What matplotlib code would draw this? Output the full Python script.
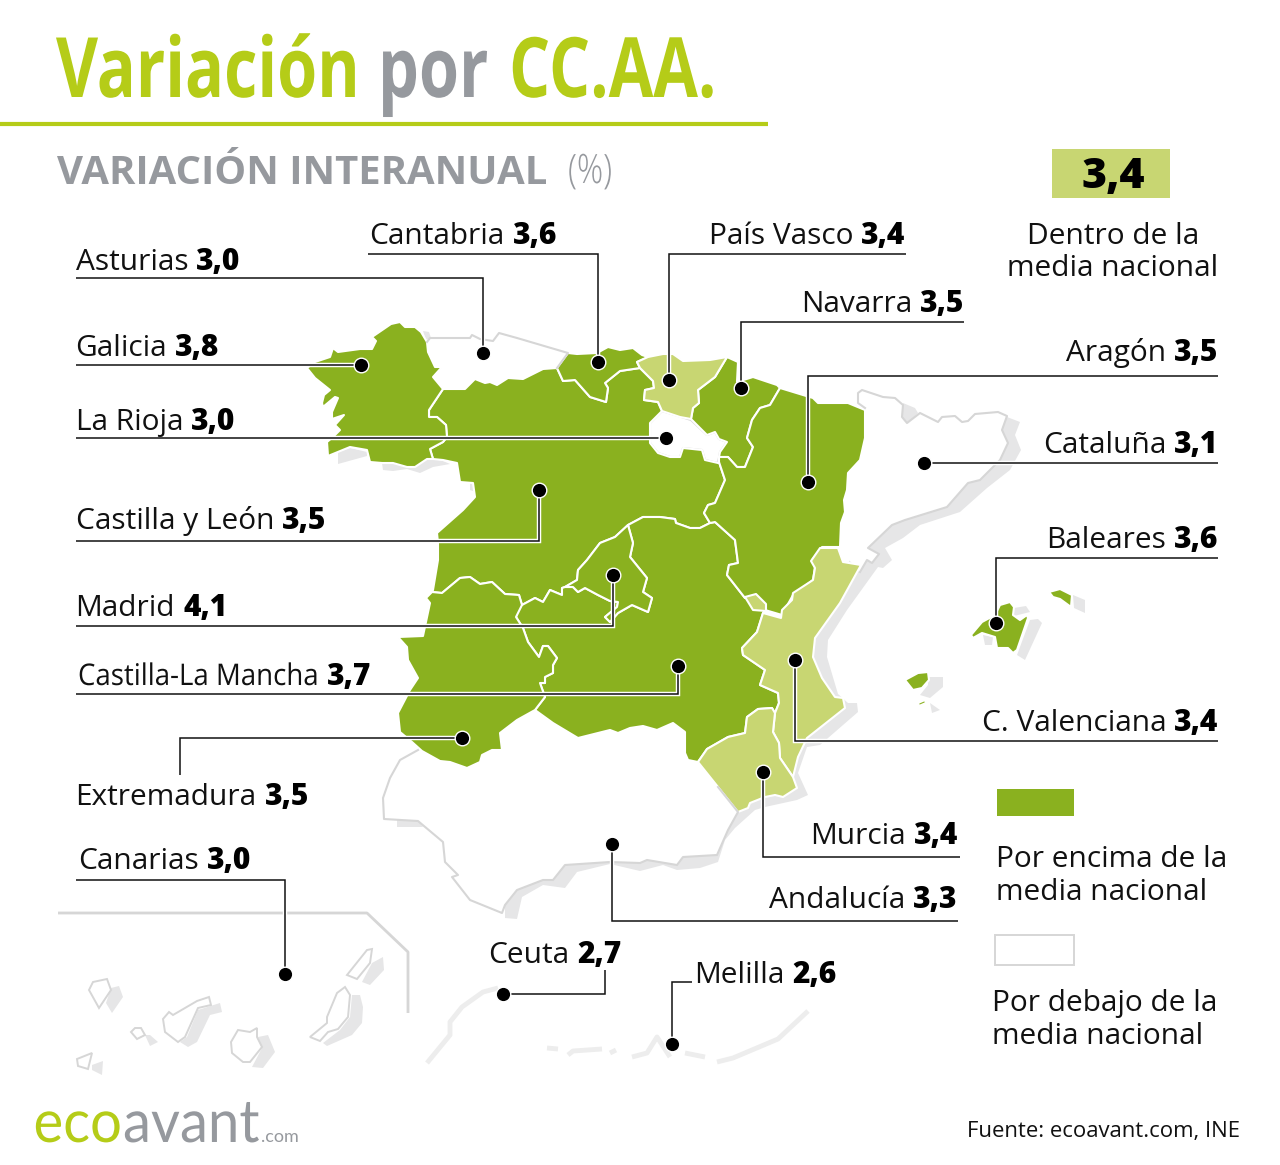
#!/usr/bin/env python3
"""Variación por CC.AA. - mapa de variación interanual (coordenadas en píxeles de la imagen)"""

import matplotlib
matplotlib.use('Agg')
import matplotlib.pyplot as plt
from matplotlib.patches import Polygon, Rectangle
from matplotlib.patheffects import AbstractPathEffect
from matplotlib.transforms import Affine2D

# Datos
regions = ['Asturias', 'Cantabria', 'País Vasco', 'Navarra', 'Galicia', 'Aragón', 'La Rioja',
           'Cataluña', 'Castilla y León', 'Baleares', 'Madrid', 'Castilla-La Mancha',
           'C. Valenciana', 'Extremadura', 'Murcia', 'Andalucía', 'Canarias', 'Ceuta', 'Melilla']
values = [3.0, 3.6, 3.4, 3.5, 3.8, 3.5, 3.0, 3.1, 3.5, 3.6, 4.1, 3.7, 3.4, 3.5, 3.4, 3.3, 3.0, 2.7, 2.6]
national = 3.4

# Contornos del mapa
galicia = [(391, 324), (400, 322), (405, 327), (415, 327), (421, 332), (427, 342), (428, 352), (435, 367),
           (442, 367), (433, 377), (443, 389), (429, 410), (429, 417), (437, 417), (446, 425), (447, 437),
           (443, 442), (430, 449), (433, 459), (427, 459), (415, 467), (407, 467), (393, 463), (382, 463),
           (370, 462), (367, 450), (350, 447), (328, 456), (327, 442), (333, 437), (340, 430), (335, 425),
           (344, 415), (332, 419), (332, 412), (338, 398), (335, 397), (323, 407), (322, 403), (324, 395),
           (330, 390), (315, 378), (307, 368), (315, 362), (330, 357), (333, 348), (338, 352), (360, 349),
           (372, 349), (376, 341), (372, 337)]
asturias = [(427, 342), (430, 338), (470, 338), (472, 335), (480, 339), (493, 341), (499, 333), (517, 338),
            (568, 353), (557, 368), (543, 369), (523, 379), (508, 378), (497, 385), (490, 382), (485, 383),
            (475, 379), (465, 389), (443, 389), (433, 377), (442, 367), (435, 367), (428, 352)]
asturias_coast = 9
cantabria = [(568, 353), (577, 354), (597, 353), (608, 347), (620, 350), (633, 348), (642, 355), (648, 357),
             (637, 362), (640, 368), (620, 371), (605, 383), (608, 388), (606, 402), (590, 397), (575, 380),
             (563, 381), (557, 368)]
pais_vasco = [(637, 362), (648, 357), (663, 354), (673, 354), (683, 361), (710, 360), (727, 357), (715, 377),
              (698, 390), (699, 403), (693, 408), (691, 419), (680, 417), (662, 411), (658, 402), (644, 400),
              (645, 390), (654, 388), (653, 381), (640, 368)]
trevino = [(663, 395), (672, 393), (680, 397), (683, 404), (672, 403), (665, 399)]
navarra = [(727, 357), (738, 362), (737, 382), (753, 377), (777, 385), (780, 388), (770, 405), (760, 408),
           (752, 420), (747, 438), (753, 447), (745, 467), (737, 467), (728, 457), (719, 457), (720, 452),
           (727, 442), (719, 439), (715, 432), (707, 435), (691, 419), (693, 408), (699, 403), (698, 390),
           (715, 377)]
la_rioja = [(662, 411), (691, 420), (707, 435), (715, 432), (719, 439), (727, 442), (720, 452), (718, 463),
            (705, 460), (702, 450), (683, 448), (680, 457), (670, 457), (658, 453), (650, 443), (650, 423)]
aragon = [(780, 388), (803, 395), (813, 398), (818, 403), (848, 403), (865, 410), (865, 438), (860, 460),
          (848, 473), (847, 490), (844, 500), (845, 512), (841, 523), (840, 547), (822, 547), (812, 560),
          (815, 567), (813, 580), (793, 595), (782, 615), (765, 610), (763, 602), (755, 595), (745, 598),
          (727, 575), (729, 565), (738, 563), (735, 540), (715, 522), (710, 523), (704, 513), (708, 505),
          (715, 503), (725, 480), (719, 462), (719, 457), (728, 457), (737, 467), (745, 467), (753, 447),
          (747, 438), (752, 420), (760, 408), (770, 405)]
cataluna = [(865, 408), (858, 403), (858, 393), (862, 390), (883, 397), (895, 398), (903, 405), (902, 417),
            (907, 423), (920, 413), (938, 422), (942, 417), (955, 416), (962, 422), (968, 421), (975, 414),
            (998, 412), (1007, 416), (1002, 430), (1008, 443), (1000, 460), (987, 473), (980, 480), (968, 483),
            (947, 507), (905, 520), (892, 525), (868, 548), (879, 554), (872, 563), (867, 560), (860, 572),
            (838, 548), (820, 540), (840, 500)]
cataluna_coast = 31
castilla_leon = [(443, 389), (465, 389), (475, 379), (485, 383), (490, 382), (497, 385), (508, 378), (523, 379),
                 (543, 369), (557, 368), (563, 381), (575, 380), (590, 397), (606, 402), (608, 388), (605, 383),
                 (620, 371), (640, 368), (653, 381), (654, 388), (645, 390), (644, 400), (658, 402), (662, 411),
                 (650, 423), (650, 443), (658, 453), (670, 457), (680, 457), (683, 448), (702, 450), (705, 460),
                 (718, 463), (719, 462), (725, 480), (715, 503), (708, 505), (704, 513), (710, 523), (700, 528),
                 (690, 528), (676, 523), (675, 519), (660, 517), (650, 517), (643, 517), (628, 525), (615, 537),
                 (600, 543), (587, 560), (578, 570), (577, 580), (565, 587), (562, 588), (562, 595), (550, 590),
                 (543, 602), (535, 598), (522, 605), (519, 595), (505, 594), (492, 582), (480, 584), (470, 577),
                 (460, 578), (442, 593), (432, 592), (433, 590), (438, 560), (438, 543), (437, 533), (463, 510),
                 (475, 497), (473, 483), (460, 482), (457, 463), (443, 460), (433, 459), (430, 449), (443, 442),
                 (447, 437), (446, 425), (437, 417), (429, 417), (429, 410)]
madrid = [(628, 525), (633, 543), (630, 557), (647, 578), (643, 592), (652, 598), (648, 612), (632, 605),
          (618, 613), (610, 622), (605, 617), (617, 607), (618, 602), (610, 601), (598, 595), (585, 588),
          (578, 592), (573, 587), (565, 587), (577, 580), (578, 570), (587, 560), (600, 543), (615, 537)]
castilla_mancha = [(628, 525), (643, 517), (650, 517), (660, 517), (675, 519), (676, 523), (690, 528), (700, 528),
                   (710, 523), (715, 522), (735, 540), (738, 563), (729, 565), (727, 575), (745, 598), (755, 595),
                   (763, 602), (765, 610), (763, 613), (757, 632), (742, 648), (743, 655), (765, 670), (760, 685),
                   (778, 693), (779, 703), (775, 713), (772, 708), (758, 709), (747, 717), (745, 733), (728, 737),
                   (707, 749), (698, 762), (688, 760), (685, 753), (685, 732), (673, 723), (657, 730), (643, 726),
                   (630, 728), (618, 733), (610, 730), (578, 738), (553, 723), (535, 710), (545, 697), (540, 683),
                   (545, 683), (545, 677), (553, 673), (553, 665), (557, 658), (548, 646), (543, 646), (539, 657),
                   (528, 642), (523, 628), (516, 617), (519, 605), (522, 605), (535, 598), (543, 602), (550, 590),
                   (562, 595), (562, 588), (565, 587), (573, 587), (578, 592), (585, 588), (598, 595), (610, 601),
                   (618, 602), (617, 607), (605, 617), (610, 622), (618, 613), (632, 605), (648, 612), (652, 598),
                   (643, 592), (647, 578), (630, 557), (633, 543)]
extremadura = [(432, 592), (442, 593), (460, 578), (470, 577), (480, 584), (492, 582), (505, 594), (519, 595),
               (522, 605), (516, 617), (523, 628), (528, 642), (539, 657), (543, 646), (548, 646), (557, 658),
               (553, 665), (553, 673), (545, 677), (545, 683), (540, 683), (545, 697), (535, 710), (517, 720),
               (500, 733), (502, 750), (492, 750), (482, 755), (480, 762), (467, 768), (450, 762), (440, 761),
               (422, 751), (412, 742), (400, 732), (398, 713), (410, 690), (418, 678), (408, 660), (407, 647),
               (398, 637), (423, 636), (430, 603), (426, 598)]
valencia = [(820, 548), (838, 548), (843, 562), (861, 565), (840, 603), (815, 638), (813, 657), (822, 678),
            (835, 697), (843, 698), (845, 708), (807, 738), (798, 757), (793, 777), (780, 758), (779, 743),
            (773, 732), (775, 713), (779, 703), (778, 693), (760, 685), (765, 670), (743, 655), (742, 648),
            (757, 632), (763, 613), (781, 618), (782, 610), (792, 600), (793, 593), (813, 580), (815, 568),
            (811, 561)]
rincon_ademuz = [(745, 597), (756, 594), (766, 604), (766, 611), (753, 610)]
murcia = [(698, 762), (707, 749), (728, 737), (745, 733), (747, 717), (758, 709), (772, 708), (775, 713),
          (773, 732), (779, 743), (780, 758), (793, 777), (797, 788), (783, 797), (775, 795), (765, 797),
          (750, 803), (748, 808), (738, 812), (718, 787)]
andalucia = [(418, 750), (400, 760), (390, 778), (383, 798), (384, 819), (418, 821), (443, 842), (445, 862),
             (458, 875), (452, 877), (470, 900), (502, 913), (505, 905), (517, 890), (543, 880), (553, 880),
             (565, 865), (610, 862), (640, 863), (647, 860), (665, 863), (677, 865), (683, 857), (700, 856),
             (717, 855), (728, 830), (738, 812), (718, 787), (698, 762), (688, 760), (685, 753), (685, 732),
             (673, 723), (657, 730), (643, 726), (630, 728), (618, 733), (610, 730), (578, 738), (553, 723),
             (535, 710), (517, 720), (500, 733), (502, 750), (492, 750), (482, 755), (480, 762), (467, 768),
             (450, 762), (440, 761), (422, 751)]
andalucia_coast = 27
mallorca = [(971, 635), (982, 622), (995, 615), (1000, 605), (1010, 602), (1014, 607), (1013, 615), (1020, 620),
            (1027, 615), (1028, 618), (1017, 650), (1013, 653), (1008, 648), (997, 648), (995, 637), (982, 633),
            (973, 638)]
menorca = [(1049, 592), (1060, 589), (1072, 595), (1071, 607), (1060, 599), (1053, 597)]
ibiza = [(905, 680), (918, 673), (928, 672), (929, 680), (922, 688), (913, 690)]
formentera = [(918, 703), (925, 700), (926, 703), (919, 706)]

# Sombras grises
shadow_east = [(1007, 417), (1020, 422), (1015, 435), (1021, 450), (1010, 470), (987, 488), (960, 512), (920, 525),
               (903, 538), (885, 548), (892, 560), (883, 568), (878, 567), (847, 610), (828, 640), (827, 657),
               (838, 694), (848, 703), (857, 703), (858, 712), (820, 745), (807, 747), (798, 773), (808, 795),
               (797, 800), (765, 807), (755, 810), (735, 828), (725, 840), (718, 862), (700, 868), (677, 870),
               (663, 865), (640, 871), (610, 864), (577, 872), (565, 888), (543, 885), (522, 897), (517, 919),
               (505, 918), (505, 880), (700, 820), (850, 560), (980, 440)]
shadow_pyrenees = [(903, 403), (915, 408), (918, 413), (908, 423), (901, 417)]
shadow_portugal_1 = [(338, 452), (350, 448), (367, 452), (367, 456), (338, 464)]
shadow_portugal_2 = [(382, 463), (395, 464), (428, 458), (443, 461), (450, 464), (433, 467), (420, 473), (407, 469),
                     (393, 471), (383, 470)]
shadow_portugal_3 = [(470, 483), (474, 485), (476, 492), (470, 490)]
shadow_huelva = [(397, 820), (418, 820), (423, 827), (397, 827)]
shadow_asturias = [(423, 331), (429, 332), (431, 338), (426, 340)]
shadow_mallorca = [(1030, 620), (1038, 619), (1042, 623), (1025, 660), (1017, 655)]
shadow_mallorca_2 = [(1014, 608), (1026, 606), (1030, 612), (1014, 616)]
shadow_mallorca_3 = [(983, 635), (993, 637), (992, 645), (985, 645)]
shadow_menorca = [(1073, 595), (1085, 600), (1085, 613), (1074, 608)]
shadow_ibiza = [(928, 677), (943, 677), (943, 687), (930, 698), (920, 695), (928, 685)]
shadow_formentera = [(930, 703), (940, 710), (932, 713)]

# Canarias
canarias_frame = [(58, 913), (367, 913), (408, 952), (408, 1013)]
la_palma = [(89, 990), (93, 982), (107, 979), (111, 990), (99, 1008)]
la_gomera = [(131, 1032), (135, 1028), (141, 1028), (145, 1035), (137, 1039)]
el_hierro = [(77, 1059), (92, 1053), (88, 1069), (78, 1066)]
tenerife = [(163, 1019), (169, 1012), (173, 1015), (197, 1001), (209, 997), (211, 1005), (198, 1008), (185, 1037),
            (178, 1042), (165, 1032)]
gran_canaria = [(238, 1030), (250, 1032), (257, 1028), (257, 1037), (262, 1047), (250, 1062), (243, 1062),
                (232, 1053), (231, 1042)]
fuerteventura = [(310, 1037), (327, 1023), (327, 1017), (337, 993), (345, 987), (350, 995), (348, 1017), (338, 1029),
                 (328, 1032), (320, 1041)]
lanzarote = [(347, 975), (367, 950), (372, 949), (370, 963), (357, 979)]
shadow_la_palma = [(111, 988), (119, 986), (123, 997), (112, 1013), (106, 1003)]
shadow_gomera = [(145, 1035), (150, 1035), (158, 1042), (150, 1046)]
shadow_hierro = [(92, 1065), (103, 1061), (102, 1075), (92, 1070)]
shadow_tenerife = [(198, 1010), (220, 1003), (222, 1012), (210, 1015), (197, 1042), (188, 1047), (180, 1042), (187, 1037)]
shadow_gran_canaria = [(258, 1037), (268, 1035), (275, 1052), (263, 1068), (252, 1067), (262, 1048)]
shadow_fuerteventura = [(352, 995), (360, 995), (363, 1007), (362, 1023), (352, 1035), (327, 1046), (323, 1043),
                        (340, 1030), (350, 1017)]
shadow_lanzarote = [(372, 963), (383, 957), (384, 970), (370, 985), (362, 982)]

# Costa de África
morocco_coast = [
    [(427, 1063), (450, 1035), (450, 1022), (462, 1007), (483, 992), (498, 988)],
    [(547, 1048), (558, 1049)],
    [(568, 1055), (573, 1051), (602, 1049)],
    [(610, 1053), (616, 1050)],
    [(632, 1057), (647, 1053), (657, 1037), (670, 1057)],
    [(685, 1053), (705, 1057)],
    [(717, 1062), (733, 1058), (778, 1039), (808, 1011)],
]

# Estilos
GREEN = '#8ab11f'
PALE = '#c8d672'
LIME = '#b5cc18'
GREY = '#96999e'
COAST = '#d6d6d6'
SHADOW = '#e6e6e7'
INK = '#111111'

shapes = {
    'Galicia': [galicia], 'Asturias': [asturias], 'Cantabria': [cantabria], 'País Vasco': [pais_vasco],
    'Navarra': [navarra], 'La Rioja': [la_rioja], 'Aragón': [aragon], 'Cataluña': [cataluna],
    'Castilla y León': [castilla_leon, trevino], 'Madrid': [madrid], 'Castilla-La Mancha': [castilla_mancha],
    'Extremadura': [extremadura], 'C. Valenciana': [valencia, rincon_ademuz], 'Murcia': [murcia],
    'Andalucía': [andalucia], 'Baleares': [mallorca, menorca, ibiza, formentera],
}
draw_order = ['Cataluña', 'Andalucía', 'Asturias', 'La Rioja', 'Castilla y León', 'Castilla-La Mancha', 'Madrid',
              'Galicia', 'Cantabria', 'Navarra', 'Aragón', 'Extremadura', 'País Vasco', 'C. Valenciana', 'Murcia',
              'Baleares']

# rótulo: (x, línea base, alineación)
label_pos = {
    'Asturias': (75.5, 270, 'left'), 'Cantabria': (369.5, 244, 'left'), 'País Vasco': (905.5, 244, 'right'),
    'Navarra': (964.5, 312, 'right'), 'Galicia': (75.5, 356, 'left'), 'Aragón': (1218.5, 361, 'right'),
    'La Rioja': (75.5, 430, 'left'), 'Cataluña': (1218.5, 453, 'right'), 'Castilla y León': (75.5, 529, 'left'),
    'Baleares': (1218.5, 548, 'right'), 'Madrid': (75.5, 616, 'left'), 'Castilla-La Mancha': (78, 685, 'left'),
    'C. Valenciana': (1218.5, 731, 'right'), 'Extremadura': (75.5, 805, 'left'), 'Murcia': (958.5, 844, 'right'),
    'Andalucía': (957.5, 908, 'right'), 'Canarias': (78, 869, 'left'), 'Ceuta': (488.5, 963, 'left'),
    'Melilla': (694, 983, 'left'),
}
# guía: lista de vértices, el último es el punto
leaders = {
    'Asturias': [(76, 278), (483, 278), (483, 353)],
    'Cantabria': [(368, 254), (598, 254), (598, 362)],
    'País Vasco': [(906, 254), (669, 254), (669, 380)],
    'Navarra': [(964, 322), (741, 322), (741, 388)],
    'Galicia': [(76, 365), (361, 365)],
    'Aragón': [(1218, 376), (808, 376), (808, 482)],
    'La Rioja': [(76, 438), (666, 438)],
    'Cataluña': [(1218, 463), (924, 463)],
    'Castilla y León': [(76, 541), (539, 541), (539, 490)],
    'Baleares': [(1218, 558), (996, 558), (996, 623)],
    'Madrid': [(76, 626), (613, 626), (613, 575)],
    'Castilla-La Mancha': [(76, 694), (678, 694), (678, 666)],
    'C. Valenciana': [(1218, 741), (795, 741), (795, 660)],
    'Extremadura': [(180, 775), (180, 738), (462, 738)],
    'Murcia': [(960, 857), (763, 857), (763, 772)],
    'Andalucía': [(958, 921), (612, 921), (612, 844)],
    'Canarias': [(76, 880), (285, 880), (285, 974)],
    'Ceuta': [(605, 970), (605, 994), (503, 994)],
    'Melilla': [(692, 982), (672, 982), (672, 1044)],
}


class TallText(AbstractPathEffect):
    """Estira el texto en vertical desde la línea base (para imitar una fuente condensada)"""

    def __init__(self, sy):
        super().__init__()
        self.sy = sy

    def draw_path(self, renderer, gc, tpath, affine, rgbFace=None):
        renderer.draw_path(gc, tpath, Affine2D().scale(1, self.sy) + affine, rgbFace)


def region_color(value):
    if value > national:
        return GREEN
    if value == national:
        return PALE
    return 'white'


def fmt(value):
    return f'{value:.1f}'.replace('.', ',')


def runs(ax, x, y, parts, align='left', gap=0):
    """Escribe trozos de texto seguidos sobre una línea base"""
    renderer = ax.figure.canvas.get_renderer()
    items = []
    total = 0
    for string, kw in parts:
        t = ax.text(x, y, string, va='baseline', ha='left', **kw)
        w = t.get_window_extent(renderer).width
        items.append((t, w))
        total += w
    total += gap * (len(parts) - 1)
    cur = x - total if align == 'right' else x
    for t, w in items:
        t.set_x(cur)
        cur += w + gap


fig = plt.figure(figsize=(12.8, 11.65), dpi=100)
ax = fig.add_axes([0, 0, 1, 1])
ax.set_xlim(0, 1280)
ax.set_ylim(1165, 0)
ax.axis('off')

# Sombras
for s in [shadow_east, shadow_pyrenees, shadow_portugal_1, shadow_portugal_2, shadow_portugal_3, shadow_huelva,
          shadow_asturias, shadow_mallorca, shadow_mallorca_2, shadow_mallorca_3, shadow_menorca, shadow_ibiza,
          shadow_formentera, shadow_la_palma, shadow_gomera, shadow_hierro, shadow_tenerife, shadow_gran_canaria,
          shadow_fuerteventura, shadow_lanzarote]:
    ax.add_patch(Polygon(s, closed=True, fc=SHADOW, ec='none', zorder=1))

# Comunidades
value_by_region = dict(zip(regions, values))
for i, name in enumerate(draw_order):
    color = region_color(value_by_region[name])
    for shape in shapes[name]:
        edge = 'white'
        if name == 'La Rioja':
            edge = COAST
        lw = 1.5 if color != 'white' or name == 'La Rioja' else 0
        ax.add_patch(Polygon(shape, closed=True, fc=color, ec=edge if lw else 'none', lw=lw,
                             joinstyle='round', zorder=2 + i * 0.01))

# Costas de las comunidades en blanco
for shape, n in [(asturias, asturias_coast), (cataluna, cataluna_coast), (andalucia, andalucia_coast)]:
    xs, ys = zip(*shape[:n + 1])
    ax.plot(xs, ys, color=COAST, lw=1.5, zorder=2.5, solid_joinstyle='round')

# Canarias y África
xs, ys = zip(*canarias_frame)
ax.plot(xs, ys, color=COAST, lw=2, zorder=2, solid_capstyle='butt')
for s in [la_palma, la_gomera, el_hierro, tenerife, gran_canaria, fuerteventura, lanzarote]:
    ax.add_patch(Polygon(s, closed=True, fc='white', ec=COAST, lw=1.4, zorder=2))
for seg in morocco_coast:
    xs, ys = zip(*seg)
    ax.plot(xs, ys, color='#ededed', lw=3.5, zorder=2, solid_capstyle='butt')

# Guías y puntos
for name, pts in leaders.items():
    xs, ys = zip(*pts)
    ax.plot(xs, ys, color='white', lw=3.2, zorder=3, solid_capstyle='butt', solid_joinstyle='miter')
    ax.plot(xs, ys, color=INK, lw=1.1, zorder=3.1, solid_capstyle='butt', solid_joinstyle='miter')
    ax.plot(xs[-1], ys[-1], 'o', ms=10.5, mfc='black', mec='white', mew=1.0, zorder=3.2)

fig.canvas.draw()

# Rótulos
body = dict(family='Open Sans', fontsize=21.5, color=INK)
bold = dict(family='Open Sans', fontsize=21.5, color='black', fontweight='extra bold')
narrow_body = dict(body, fontsize=19.9, path_effects=[TallText(1.08)])
for name, value in zip(regions, values):
    x, y, align = label_pos[name]
    name_kw = narrow_body if name == 'Castilla-La Mancha' else body
    runs(ax, x, y, [(name, name_kw), (fmt(value), bold)], align=align, gap=8)

# Título
title_kw = dict(family='Open Sans', fontsize=46.6, fontweight='bold', path_effects=[TallText(1.287)])
ax.text(56, 97, 'Variación', color=LIME, va='baseline', **title_kw)
ax.text(378, 97, 'por', color=GREY, va='baseline', **title_kw)
ax.text(509, 97, 'CC.AA.', color=LIME, va='baseline', **title_kw)
ax.plot([0, 768], [124, 124], color=LIME, lw=3, solid_capstyle='butt')
ax.text(57, 184.5, 'VARIACIÓN INTERANUAL', color=GREY, family='Open Sans', fontsize=28.8, fontweight='bold', va='baseline')
ax.text(568, 183, '(%)', color=GREY, family='Open Sans', fontsize=23.5, fontweight='light', va='baseline',
        path_effects=[TallText(1.24)])

# Leyenda
ax.add_patch(Rectangle((1052, 149), 118, 49, fc=PALE, ec='none'))
ax.text(1113, 188, fmt(national), ha='center', va='baseline', family='Open Sans', fontsize=31,
        fontweight='extra bold', color='black')
ax.text(1113, 243.5, 'Dentro de la', ha='center', va='baseline', **body)
ax.text(1113, 276.5, 'media nacional', ha='center', va='baseline', **body)
ax.add_patch(Rectangle((997, 789), 77, 27, fc=GREEN, ec='none'))
ax.text(996.5, 867, 'Por encima de la', va='baseline', **body)
ax.text(996.5, 900, 'media nacional', va='baseline', **body)
ax.add_patch(Rectangle((995, 935), 79, 30, fc='white', ec=COAST, lw=1.4))
ax.text(991.5, 1010.5, 'Por debajo de la', va='baseline', **body)
ax.text(991.5, 1043.5, 'media nacional', va='baseline', **body)

# Pie
ax.text(967, 1137, 'Fuente: ecoavant.com, INE', color=INK, family='Open Sans', fontsize=15.9, va='baseline')
logo_big = dict(family='Lato', fontsize=40.5, path_effects=[TallText(1.06)])
runs(ax, 33.5, 1142, [('eco', dict(color=LIME, **logo_big)), ('avant', dict(color=GREY, **logo_big)),
                      ('.com', dict(color=GREY, family='Lato', fontsize=13))], gap=1)

fig.savefig('out.png', dpi=100, facecolor='white')
